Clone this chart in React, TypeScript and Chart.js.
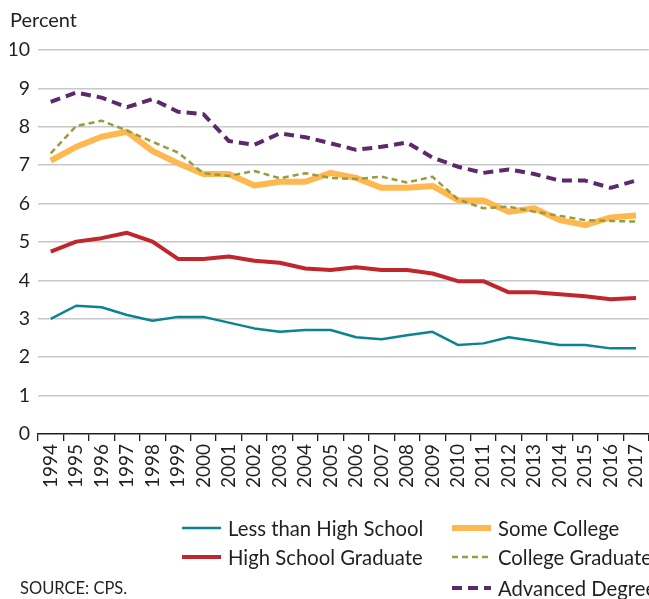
import React, { useEffect, useRef } from "react";
import { Chart, registerables } from "chart.js";

Chart.register(...registerables);

const years = ["1994","1995","1996","1997","1998","1999","2000","2001","2002","2003","2004","2005","2006","2007","2008","2009","2010","2011","2012","2013","2014","2015","2016","2017"];
const lessThanHS = [3.0,3.34,3.3,3.1,2.95,3.05,3.05,2.9,2.75,2.66,2.71,2.71,2.52,2.47,2.57,2.66,2.32,2.36,2.52,2.42,2.32,2.32,2.23,2.23];
const hsGrad = [4.75,5.01,5.1,5.24,5.01,4.56,4.56,4.62,4.51,4.46,4.31,4.27,4.34,4.27,4.27,4.18,3.98,3.98,3.69,3.69,3.64,3.59,3.51,3.54];
const someCollege = [7.12,7.48,7.74,7.87,7.37,7.05,6.77,6.77,6.47,6.57,6.57,6.8,6.67,6.41,6.41,6.46,6.09,6.08,5.79,5.88,5.57,5.44,5.64,5.69];
const collegeGrad = [7.31,8.02,8.16,7.9,7.61,7.33,6.79,6.72,6.85,6.66,6.79,6.67,6.64,6.7,6.55,6.7,6.11,5.88,5.92,5.79,5.68,5.57,5.55,5.53];
const advancedDegree = [8.65,8.89,8.76,8.51,8.72,8.39,8.33,7.63,7.53,7.83,7.73,7.57,7.4,7.48,7.59,7.2,6.96,6.8,6.89,6.77,6.6,6.6,6.41,6.6];
const yTicks = [0,1,2,3,4,5,6,7,8,9,10];

const FONT = "Lato";
const TEXT = "#231F20";

const legendPlugin = {
  id: "customLegend",
  afterDraw(chart: any) {
    const ctx = chart.ctx;
    ctx.save();
    ctx.fillStyle = TEXT;
    ctx.textBaseline = "alphabetic";
    ctx.textAlign = "left";
    ctx.font = `20px ${FONT}`;
    ctx.fillText("Percent", 10, 27);
    ctx.font = `16.5px ${FONT}`;
    ctx.fillText("SOURCE: CPS.", 20, 594);
    ctx.font = `20.3px ${FONT}`;
    const ds = chart.data.datasets;
    const items = [
      { i: 0, x: 182, tx: 228, y: 528 },
      { i: 1, x: 182, tx: 228, y: 557 },
      { i: 2, x: 452, tx: 498, y: 528 },
      { i: 3, x: 452, tx: 498, y: 557 },
      { i: 4, x: 452, tx: 498, y: 588 },
    ];
    items.forEach((it) => {
      const d: any = ds[it.i];
      ctx.save();
      ctx.strokeStyle = d.borderColor;
      ctx.lineWidth = d.borderWidth;
      ctx.setLineDash(d.borderDash || []);
      ctx.beginPath();
      ctx.moveTo(it.x, it.y);
      ctx.lineTo(it.x + 39, it.y);
      ctx.stroke();
      ctx.restore();
      ctx.textBaseline = "middle";
      ctx.fillText(d.label, it.tx, it.y + 1);
    });
    ctx.restore();
  },
};

export default function App() {
  const ref = useRef<HTMLCanvasElement>(null);
  useEffect(() => {
    if (!ref.current) return;
    const chart = new Chart(ref.current, {
      type: "line",
      data: {
        labels: years,
        datasets: [
          { label: "Less than High School", data: lessThanHS, borderColor: "#0A8491", borderWidth: 2.5, order: 5 },
          { label: "High School Graduate", data: hsGrad, borderColor: "#C0272D", borderWidth: 4, order: 4 },
          { label: "Some College", data: someCollege, borderColor: "#FDB84F", borderWidth: 6, order: 3 },
          { label: "College Graduate", data: collegeGrad, borderColor: "#9A9B3C", borderWidth: 2.5, borderDash: [6, 4], order: 2 },
          { label: "Advanced Degree", data: advancedDegree, borderColor: "#5C2A6B", borderWidth: 4, borderDash: [10, 6], order: 1 },
        ].map((d) => ({ ...d, pointRadius: 0, tension: 0, fill: false, borderJoinStyle: "round" as const })),
      },
      options: {
        animation: false,
        responsive: false,
        devicePixelRatio: 1,
        layout: { padding: { left: 10, right: 7, top: 50, bottom: 85 } },
        plugins: { legend: { display: false }, tooltip: { enabled: false }, title: { display: false } },
        scales: {
          x: {
            offset: true,
            grid: { display: true, offset: true, drawOnChartArea: false, drawTicks: true, tickLength: 7, color: TEXT, lineWidth: 1.3 },
            border: { display: true, color: TEXT, width: 1.5 },
            ticks: { autoSkip: false, maxRotation: 90, minRotation: 90, color: TEXT, font: { family: FONT, size: 19 }, padding: 3 },
            afterFit: (s: any) => { s.height = 80; },
          },
          y: {
            min: 0,
            max: 10,
            afterBuildTicks: (s: any) => { s.ticks = yTicks.map((v) => ({ value: v })); },
            grid: { drawTicks: false, color: (c: any) => (c.tick && c.tick.value === 0 ? "rgba(0,0,0,0)" : "#C8C8C8"), lineWidth: 1.5 },
            border: { display: false },
            ticks: { color: TEXT, font: { family: FONT, size: 19.5 }, padding: 8 },
            afterFit: (s: any) => { s.width = 28; },
          },
        },
      },
      plugins: [legendPlugin],
    });
    return () => chart.destroy();
  }, []);
  return (
    <div style={{ position: "fixed", left: 0, top: 0, width: 649, height: 599, overflow: "hidden", background: "#fff" }}>
      <canvas ref={ref} width={662} height={599} style={{ width: 662, height: 599, display: "block" }} />
    </div>
  );
}
